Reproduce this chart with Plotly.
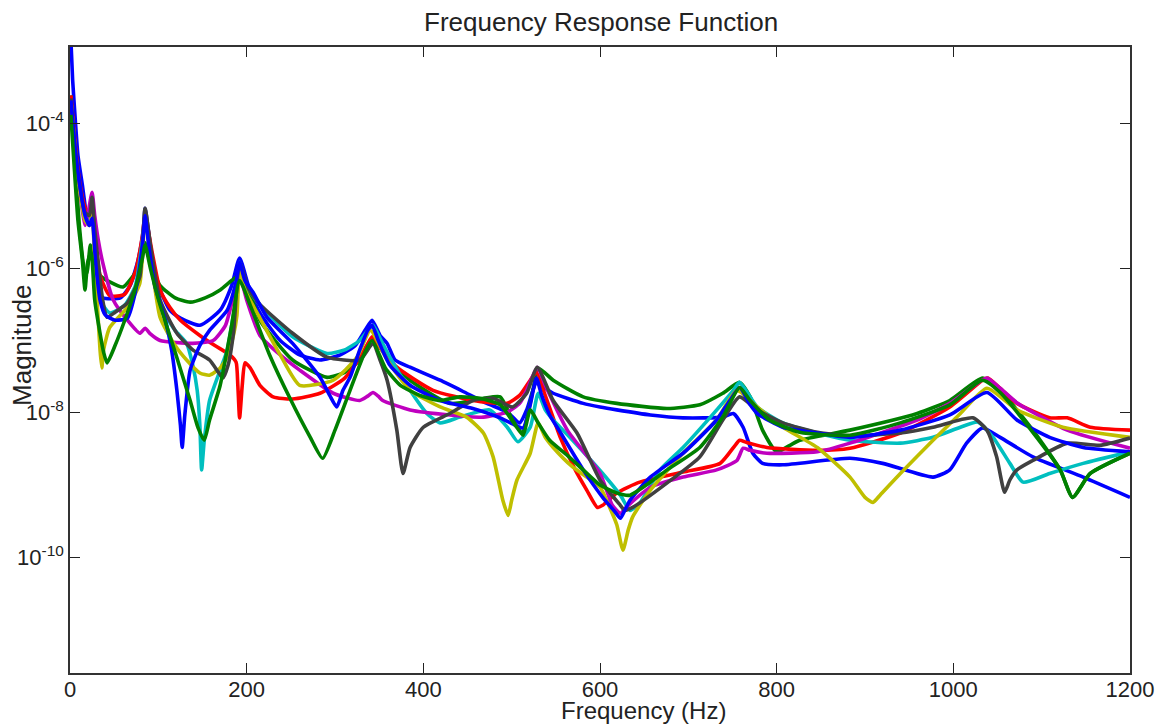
import plotly.graph_objects as go

# ---- data: frequency (Hz) and log10(magnitude) ----
blue1_f = [0.5, 3, 6, 9, 14, 17, 20, 25, 28, 32, 37, 57, 68, 77, 83, 85, 89, 94, 102, 113, 125, 147, 170, 183, 192,
           202, 215, 238, 260, 283, 306, 323, 334, 342, 351, 359, 368, 385, 419, 449, 472, 495, 509, 517, 524, 529,
           538, 547, 581, 600, 619, 657, 694, 739, 751, 762, 773, 784, 807, 883, 920, 977, 996, 1015, 1033, 1053,
           1090, 1147, 1200]
blue1_exp = [-2.70, -3.40, -3.95, -4.44, -4.85, -5.13, -5.38, -5.23, -5.71, -6.30, -6.41, -6.41, -6.24, -5.89, -5.47,
             -5.17, -5.50, -5.96, -6.30, -6.58, -6.69, -6.79, -6.58, -6.24, -5.86, -6.24, -6.62, -7.00, -7.20, -7.27,
             -7.20, -7.07, -6.86, -6.72, -6.93, -7.04, -7.27, -7.37, -7.55, -7.73, -7.87, -7.99, -8.14, -7.96, -7.69,
             -7.55, -7.66, -7.73, -7.87, -7.92, -7.96, -8.03, -8.07, -8.06, -8.01, -8.20, -8.56, -8.70, -8.72, -8.63,
             -8.70, -8.89, -8.79, -8.42, -8.21, -8.34, -8.61, -8.89, -9.17]

green1_f = [1, 3, 7, 11, 16, 19, 23, 26, 34, 45, 60, 74, 82, 85, 91, 102, 119, 136, 153, 170, 183, 192, 202, 215,
            252, 291, 311, 328, 342, 359, 385, 430, 468, 487, 501, 512, 524, 530, 547, 581, 619, 676, 713, 739, 758,
            770, 784, 800, 815, 826, 883, 959, 996, 1033, 1053, 1090, 1121, 1135, 1155, 1200]
green1_exp = [-3.61, -4.09, -4.78, -5.47, -6.00, -6.07, -5.68, -5.92, -6.10, -6.19, -6.26, -6.06, -5.78, -5.65, -5.92,
              -6.24, -6.41, -6.47, -6.41, -6.30, -6.17, -6.10, -6.30, -6.72, -7.27, -7.51, -7.44, -7.27, -6.97, -7.23,
              -7.55, -7.87, -7.80, -7.78, -8.10, -8.27, -7.69, -7.38, -7.55, -7.78, -7.87, -7.94, -7.89, -7.73, -7.58,
              -7.78, -8.24, -8.54, -8.45, -8.38, -8.24, -8.01, -7.83, -7.52, -7.69, -8.24, -8.79, -9.17, -8.84, -8.56]

red_f = [1, 6, 11, 17, 22, 25, 29, 34, 45, 62, 74, 82, 85, 93, 102, 113, 125, 147, 164, 181, 188, 190, 192, 195, 198,
         204, 215, 230, 252, 283, 311, 328, 336, 342, 349, 370, 411, 456, 495, 509, 521, 528, 538, 555, 572, 585, 597,
         603, 619, 645, 694, 736, 753, 758, 766, 789, 846, 883, 940, 996, 1033, 1039, 1072, 1109, 1129, 1155, 1200]
red_exp = [-3.61, -4.30, -4.82, -5.16, -5.29, -5.15, -5.64, -6.10, -6.38, -6.36, -6.05, -5.55, -5.27, -5.78, -6.30,
           -6.54, -6.72, -6.93, -7.07, -7.20, -7.30, -7.62, -8.07, -7.62, -7.31, -7.38, -7.62, -7.78, -7.81, -7.73,
           -7.52, -7.24, -7.07, -6.95, -7.07, -7.37, -7.69, -7.83, -7.87, -7.76, -7.55, -7.44, -7.76, -8.34, -8.79,
           -9.07, -9.31, -9.28, -9.11, -8.96, -8.82, -8.70, -8.45, -8.38, -8.41, -8.48, -8.52, -8.49, -8.28, -7.92,
           -7.55, -7.52, -7.87, -8.07, -8.07, -8.20, -8.24]

cyan_f = [1, 6, 11, 17, 22, 25, 29, 34, 45, 62, 74, 82, 85, 91, 102, 119, 132, 139, 144, 147, 149, 152, 158, 170, 178,
          184, 189, 192, 198, 215, 252, 291, 311, 328, 340, 343, 351, 362, 385, 404, 419, 441, 461, 475, 495, 507, 521,
          530, 538, 547, 569, 603, 623, 634, 645, 668, 694, 725, 751, 758, 778, 807, 846, 883, 940, 977, 1008, 1028,
          1045, 1064, 1079, 1109, 1147, 1200]
cyan_exp = [-3.75, -4.44, -4.92, -5.27, -5.36, -5.20, -5.82, -6.44, -6.62, -6.51, -6.24, -5.61, -5.27, -5.75, -6.51,
            -6.86, -7.04, -7.34, -7.69, -8.17, -8.79, -8.38, -7.83, -7.41, -7.13, -6.72, -6.37, -5.92, -6.21, -6.51,
            -6.95, -7.18, -7.13, -7.00, -6.82, -6.79, -6.97, -7.23, -7.69, -8.01, -8.14, -8.06, -7.99, -7.96, -8.20,
            -8.40, -8.20, -7.73, -7.96, -8.10, -8.38, -8.84, -9.14, -9.35, -9.25, -8.79, -8.48, -8.06, -7.69, -7.58,
            -7.92, -8.14, -8.28, -8.38, -8.42, -8.34, -8.20, -8.13, -8.34, -8.70, -8.96, -8.84, -8.70, -8.54]

magenta_f = [1, 6, 11, 17, 20, 25, 28, 32, 37, 49, 65, 79, 85, 91, 102, 139, 162, 176, 184, 192, 200, 215, 238, 260,
             298, 328, 337, 343, 349, 354, 385, 430, 468, 495, 509, 517, 529, 538, 563, 600, 614, 623, 632, 657, 694,
             732, 755, 762, 770, 789, 846, 883, 959, 996, 1024, 1038, 1053, 1072, 1129, 1200]
magenta_exp = [-3.68, -4.37, -4.92, -5.41, -5.27, -4.95, -5.27, -5.61, -5.92, -6.44, -6.72, -6.90, -6.83, -6.91,
               -7.00, -7.04, -7.00, -6.79, -6.44, -6.10, -6.44, -6.93, -7.20, -7.41, -7.73, -7.83, -7.77, -7.72,
               -7.77, -7.83, -7.96, -8.03, -8.06, -7.99, -7.87, -7.69, -7.37, -7.62, -8.24, -8.84, -9.28, -9.39,
               -9.28, -9.03, -8.89, -8.79, -8.66, -8.49, -8.52, -8.56, -8.54, -8.42, -8.10, -7.87, -7.62, -7.52,
               -7.66, -7.86, -8.24, -8.49]

yellow_f = [1, 6, 11, 17, 22, 25, 28, 32, 34, 36, 38, 45, 65, 79, 85, 91, 102, 119, 132, 147, 158, 170, 178, 185, 189,
            192, 198, 215, 238, 260, 298, 325, 340, 359, 385, 419, 449, 468, 479, 490, 496, 500, 506, 521, 530, 538,
            547, 569, 600, 611, 619, 626, 632, 637, 657, 694, 732, 755, 778, 807, 846, 883, 900, 909, 917, 940, 977,
            1008, 1038, 1072, 1124, 1200]
yellow_exp = [-3.68, -4.37, -4.92, -5.34, -5.41, -5.24, -5.89, -6.72, -7.13, -7.38, -7.13, -6.82, -6.54, -6.21, -5.31,
              -5.82, -6.68, -7.07, -7.27, -7.45, -7.48, -7.38, -7.23, -6.93, -6.65, -5.99, -6.30, -6.69, -7.20, -7.62,
              -7.55, -7.23, -6.86, -7.27, -7.69, -7.92, -8.06, -8.28, -8.61, -9.21, -9.42, -9.21, -8.93, -8.56, -8.14,
              -8.34, -8.48, -8.75, -9.03, -9.31, -9.55, -9.90, -9.62, -9.44, -9.07, -8.56, -8.10, -7.69, -7.92, -8.20,
              -8.48, -8.89, -9.17, -9.24, -9.14, -8.84, -8.38, -8.01, -7.66, -7.96, -8.20, -8.34]

gray_f = [1, 6, 11, 17, 22, 25, 28, 32, 37, 42, 51, 65, 79, 85, 91, 102, 121, 139, 158, 168, 173, 179, 185, 192, 202,
          215, 252, 291, 328, 343, 351, 359, 370, 377, 385, 400, 430, 456, 479, 501, 517, 529, 547, 574, 600, 623, 628,
          637, 676, 713, 739, 758, 778, 807, 846, 883, 940, 977, 1022, 1038, 1049, 1058, 1064, 1072, 1090, 1129, 1166,
          1200]
gray_exp = [-3.65, -4.34, -4.85, -5.23, -5.27, -5.02, -5.47, -5.92, -6.44, -6.68, -6.61, -6.48, -6.12, -5.17, -5.68,
            -6.44, -6.90, -7.13, -7.27, -7.44, -7.52, -7.34, -6.90, -5.93, -6.28, -6.50, -6.90, -7.23, -7.27, -7.04,
            -7.27, -7.55, -8.24, -8.84, -8.48, -8.20, -8.01, -7.83, -7.80, -7.92, -7.73, -7.37, -7.83, -8.28, -8.93,
            -9.28, -9.35, -9.31, -8.97, -8.61, -8.10, -7.78, -7.96, -8.14, -8.27, -8.32, -8.28, -8.20, -8.07, -8.24,
            -8.61, -9.10, -8.93, -8.79, -8.66, -8.42, -8.45, -8.35]

blue2_f = [1, 6, 11, 17, 22, 25, 29, 34, 40, 51, 65, 74, 82, 85, 89, 96, 108, 115, 121, 125, 127, 130, 136, 147, 158,
           178, 188, 192, 198, 207, 223, 252, 283, 294, 302, 309, 317, 328, 337, 342, 349, 362, 385, 419, 456, 487,
           504, 513, 521, 528, 534, 543, 555, 581, 603, 617, 623, 628, 634, 657, 694, 713, 732, 747, 758, 770, 778,
           807, 846, 883, 940, 996, 1038, 1072, 1109, 1147, 1200]
blue2_exp = [-3.68, -4.37, -4.85, -5.27, -5.41, -5.31, -5.92, -6.44, -6.65, -6.72, -6.69, -6.33, -5.68, -5.27, -5.68,
             -6.24, -6.72, -7.13, -7.69, -8.17, -8.48, -8.03, -7.41, -7.07, -6.86, -6.58, -6.19, -5.92, -6.17, -6.33,
             -6.68, -7.04, -7.51, -7.76, -7.92, -7.69, -7.51, -7.13, -6.86, -6.79, -7.00, -7.34, -7.62, -7.83, -7.94,
             -8.07, -8.17, -8.21, -7.89, -7.52, -7.76, -8.03, -8.27, -8.79, -9.17, -9.37, -9.46, -9.35, -9.21, -8.89,
             -8.56, -8.34, -8.10, -7.83, -7.65, -7.89, -8.01, -8.20, -8.28, -8.34, -8.24, -8.03, -7.72, -8.10, -8.34,
             -8.48, -8.54]

green2_f = [1, 5, 9, 14, 17, 20, 24, 28, 34, 38, 42, 51, 62, 74, 82, 85, 91, 102, 119, 136, 145, 152, 158, 170, 183,
            192, 204, 226, 249, 272, 286, 300, 317, 334, 342, 357, 374, 396, 419, 441, 464, 487, 504, 513, 521, 530,
            543, 563, 581, 600, 619, 634, 676, 713, 739, 758, 770, 792, 826, 883, 940, 996, 1033, 1053, 1090, 1121,
            1135, 1155, 1200]
green2_exp = [-3.88, -4.64, -5.34, -5.89, -6.30, -5.92, -5.78, -6.44, -6.90, -7.16, -7.31, -7.07, -6.72, -6.28, -5.86,
              -5.68, -6.00, -6.51, -7.16, -7.83, -8.21, -8.38, -8.10, -7.62, -6.79, -6.17, -6.51, -7.20, -7.80, -8.34,
              -8.63, -8.24, -7.69, -7.16, -7.00, -7.38, -7.62, -7.76, -7.83, -7.78, -7.80, -7.89, -8.17, -8.31, -7.96,
              -8.14, -8.38, -8.59, -8.79, -9.00, -9.11, -9.14, -8.79, -8.48, -8.06, -7.65, -7.83, -8.10, -8.27, -8.31,
              -8.14, -7.89, -7.55, -7.72, -8.27, -8.79, -9.17, -8.84, -8.56]

series = [
    ("blue1", blue1_f, blue1_exp, "#0000FF"),
    ("green1", green1_f, green1_exp, "#008000"),
    ("red", red_f, red_exp, "#FF0000"),
    ("cyan", cyan_f, cyan_exp, "#00BFBF"),
    ("magenta", magenta_f, magenta_exp, "#BF00BF"),
    ("yellow", yellow_f, yellow_exp, "#BFBF00"),
    ("gray", gray_f, gray_exp, "#404040"),
    ("blue2", blue2_f, blue2_exp, "#0000FF"),
    ("green2", green2_f, green2_exp, "#008000"),
]

x_ticks = [0, 200, 400, 600, 800, 1000, 1200]
y_ticks = [1e-10, 1e-8, 1e-6, 1e-4]
y_ticktext = ["10<sup>-10</sup>", "10<sup>-8</sup>", "10<sup>-6</sup>", "10<sup>-4</sup>"]

FONT = "Liberation Sans, Arial, Helvetica, sans-serif"
fig = go.Figure()
for name, f, e, col in series:
    assert len(f) == len(e), name
    fig.add_trace(go.Scatter(x=f, y=[10 ** v for v in e], mode="lines", name=name,
                             line=dict(color=col, width=3.6, shape="spline", smoothing=0.55),
                             showlegend=False))

axis_common = dict(showline=True, linecolor="#333333", linewidth=1.5, mirror="allticks", ticks="inside",
                   ticklen=10, tickwidth=1.3, tickcolor="#222222", showgrid=False, zeroline=False,
                   tickfont=dict(family=FONT, size=22, color="#222222"))
fig.update_xaxes(range=[0, 1200], tickvals=x_ticks, ticktext=[str(t) for t in x_ticks],
                 ticklabelstandoff=-4, **axis_common)
fig.update_yaxes(type="log", range=[-11.6, -2.94], tickvals=y_ticks, ticktext=y_ticktext, **axis_common)

fig.update_layout(
    width=1171, height=726, margin=dict(l=70, r=41, t=47, b=53),
    paper_bgcolor="white", plot_bgcolor="white",
    font=dict(family=FONT, color="#222222"),
    annotations=[
        dict(text="Frequency Response Function", x=0.501, y=1.040, xref="paper", yref="paper",
             xanchor="center", yanchor="middle", showarrow=False, font=dict(size=26, family=FONT, color="#222222")),
        dict(text="Frequency (Hz)", x=0.5406, y=-0.0845, xref="paper", yref="paper",
             xanchor="center", yanchor="bottom", showarrow=False, font=dict(size=24, family=FONT, color="#222222")),
        dict(text="Magnitude", x=-0.0453, y=0.524, xref="paper", yref="paper", textangle=-90,
             xanchor="center", yanchor="middle", showarrow=False, font=dict(size=26, family=FONT, color="#222222")),
    ],
)
fig.write_html("out.html")
